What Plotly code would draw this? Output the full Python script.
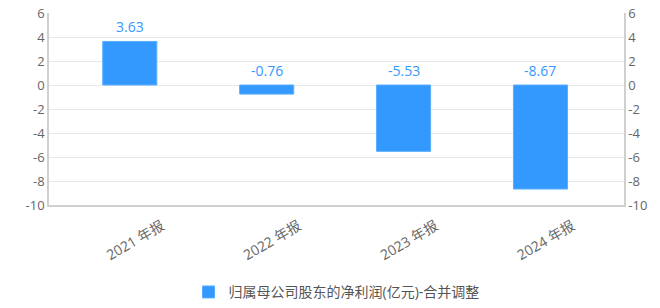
import plotly.graph_objects as go

categories = ["2021 年报", "2022 年报", "2023 年报", "2024 年报"]
values = [3.63, -0.76, -5.53, -8.67]
value_labels = ["3.63", "-0.76", "-5.53", "-8.67"]
series_name = "归属母公司股东的净利润(亿元)-合并调整"
y_ticks = [6, 4, 2, 0, -2, -4, -6, -8, -10]

BLUE = "#3399ff"
FONT = "Open Sans, Noto Sans CJK SC, sans-serif"

fig = go.Figure()
fig.add_trace(go.Bar(
    x=list(range(len(categories))), y=values, name=series_name,
    marker=dict(color=BLUE, line=dict(color="#5aaeff", width=1)),
    width=0.395, showlegend=True,
))
fig.add_trace(go.Scatter(
    x=list(range(len(categories))), y=values, yaxis="y2", mode="none",
    showlegend=False, hoverinfo="skip",
))

for i, (v, t) in enumerate(zip(values, value_labels)):
    fig.add_annotation(x=i, y=max(v, 0), text=t, showarrow=False,
                       yanchor="bottom", yshift=3,
                       font=dict(color=BLUE, size=14, family=FONT))

axis_common = dict(range=[-10, 6], tickvals=y_ticks, ticktext=[str(v) for v in y_ticks],
                   tickfont=dict(color="#666666", size=13, family=FONT),
                   zeroline=False, showline=True, linecolor="#d0d0d0", linewidth=1.5,
                   ticks="", automargin=False)

fig.update_layout(
    width=660, height=308,
    margin=dict(l=49, r=36, t=13, b=103, autoexpand=False),
    paper_bgcolor="white", plot_bgcolor="white",
    font=dict(family=FONT, color="#666666"),
    xaxis=dict(range=[-0.59, 3.61], tickvals=list(range(len(categories))),
               ticktext=categories, tickangle=-30, showgrid=False, zeroline=False,
               showline=True, linecolor="#d0d0d0", linewidth=1.5, ticks="",
               tickfont=dict(color="#666666", size=14, family=FONT), ticklabelshift=32,
               ticklabelstandoff=6, automargin=False),
    yaxis=dict(**axis_common, showgrid=True, gridcolor="#e8e8e8", gridwidth=1, side="left"),
    yaxis2=dict(**axis_common, showgrid=False, overlaying="y", side="right"),
    legend=dict(orientation="h", x=0.5, xanchor="center", y=-0.455, yanchor="middle",
                font=dict(size=14, color="#555555", family=FONT), itemwidth=30),
    bargap=0.6,
)

fig.write_html("out.html")
